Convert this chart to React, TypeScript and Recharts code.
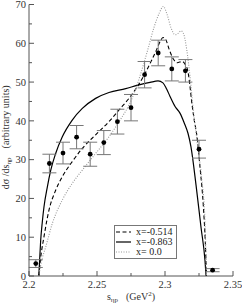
import React from 'react'
import { ComposedChart, Line, Scatter, ErrorBar, XAxis, YAxis, Legend } from 'recharts'

const FONT = '"Liberation Serif", "DejaVu Serif", serif'
const AXIS_COLOR = '#555'
const TEXT_COLOR = '#333'

const X_MAJOR = [2.2, 2.25, 2.3, 2.35]
const X_MINOR = [2.225, 2.275, 2.325]
const Y_MAJOR = [0, 10, 20, 30, 40, 50, 60, 70]
const Y_MINOR = [5, 15, 25, 35, 45, 55, 65]

// measured points (s, dσ/ds, error)
const POINT_S = [2.205, 2.215, 2.225, 2.235, 2.245, 2.255, 2.265, 2.275, 2.285, 2.295, 2.305, 2.315, 2.325, 2.335]
const POINT_V = [3.2, 29.0, 31.7, 35.8, 31.4, 34.4, 39.8, 43.4, 51.9, 57.5, 53.4, 52.9, 32.7, 1.5]
const POINT_ERR = [1.0, 2.4, 2.8, 3.0, 3.1, 3.1, 3.2, 3.4, 3.4, 3.3, 3.1, 2.9, 2.3, 0.4]

// model curves as [s, value]
const CURVE_SOLID = [
  [2.2072, 0], [2.2078, 4], [2.2086, 9.2], [2.2098, 14], [2.211, 17.8], [2.2135, 23],
  [2.216, 27.3], [2.2196, 31.6], [2.2245, 35.9], [2.2318, 40.2], [2.2392, 43.2], [2.249, 45.8],
  [2.2588, 47.3], [2.2711, 48.3], [2.28, 49.2], [2.289, 49.9], [2.2949, 50.3], [2.2985, 49.8],
  [2.3012, 48.2], [2.3037, 46.3], [2.3074, 43.7], [2.311, 42], [2.314, 39.6], [2.3169, 36.8],
  [2.3191, 33.3], [2.3228, 23.5], [2.3265, 12.5], [2.3294, 4], [2.3302, 0],
]
const CURVE_DASHED = [
  [2.2072, 0], [2.2085, 4.5], [2.211, 10.1], [2.2147, 17], [2.2196, 22.1], [2.2245, 25.6],
  [2.2318, 29.5], [2.2392, 32.9], [2.249, 36.4], [2.2588, 39.8], [2.2662, 42.8], [2.2735, 45.8],
  [2.28, 49], [2.285, 52], [2.29, 55.5], [2.294, 58.5], [2.2965, 60.5], [2.2985, 61.5],
  [2.3005, 61], [2.303, 58.5], [2.306, 56], [2.309, 55], [2.3125, 55.3], [2.315, 54.5],
  [2.317, 52.5], [2.3184, 48.8], [2.3196, 45], [2.3215, 40.2], [2.3233, 36.5], [2.3257, 28.2],
  [2.3282, 18], [2.3296, 9], [2.3305, 0],
]
const CURVE_DOTTED = [
  [2.2072, 0], [2.209, 3.5], [2.2123, 7.5], [2.2171, 13.5], [2.2245, 19.6], [2.2318, 23.9],
  [2.2392, 27.3], [2.249, 31.6], [2.2588, 35.9], [2.2662, 39.8], [2.2735, 44.1], [2.2772, 47],
  [2.282, 52], [2.2873, 58.3], [2.2921, 64.3], [2.2958, 67.8], [2.2988, 69.5], [2.3015, 67.5],
  [2.3044, 64], [2.3074, 62.2], [2.3098, 62.6], [2.3118, 63.2], [2.3135, 62.6], [2.316, 58.3],
  [2.3184, 51.4], [2.3208, 42.8], [2.3235, 35], [2.327, 25], [2.3294, 14], [2.3305, 0],
]

const toRows = (pts) => pts.map(([x, y]) => ({ x, y }))
const points = POINT_S.map((x, i) => ({ x, y: POINT_V[i], err: POINT_ERR[i] }))

const SERIES = [
  { name: 'x=-0.514', data: toRows(CURVE_DASHED), stroke: '#000', dash: '4 2.5', width: 1.1 },
  { name: 'x=-0.863', data: toRows(CURVE_SOLID), stroke: '#000', dash: undefined, width: 1.2 },
  { name: 'x= 0.0', data: toRows(CURVE_DOTTED), stroke: '#999', dash: '1 1.5', width: 1.1 },
]

const X_TICKS = [...X_MAJOR, ...X_MINOR].sort((a, b) => a - b)
const Y_TICKS = [...Y_MAJOR, ...Y_MINOR].sort((a, b) => a - b)

const tickText = { fontFamily: FONT, fontSize: 10.5, fill: TEXT_COLOR }

const BottomTick = ({ x, y, payload }) => {
  const major = X_MAJOR.includes(payload.value)
  return (
    <g>
      <line x1={x} x2={x} y1={y} y2={y - (major ? 5 : 3)} stroke={AXIS_COLOR} />
      {major && (
        <text x={x} y={y + 12} textAnchor="middle" {...tickText}>
          {payload.value}
        </text>
      )}
    </g>
  )
}

const TopTick = ({ x, y, payload }) => {
  const major = X_MAJOR.includes(payload.value)
  return <line x1={x} x2={x} y1={y} y2={y + (major ? 5 : 3)} stroke={AXIS_COLOR} />
}

const LeftTick = ({ x, y, payload }) => {
  const major = Y_MAJOR.includes(payload.value)
  return (
    <g>
      <line x1={x} x2={x + (major ? 5 : 3)} y1={y} y2={y} stroke={AXIS_COLOR} />
      {major && (
        <text x={x - 3} y={y} dy="0.35em" textAnchor="end" {...tickText}>
          {payload.value}
        </text>
      )}
    </g>
  )
}

const RightTick = ({ x, y, payload }) => {
  const major = Y_MAJOR.includes(payload.value)
  return <line x1={x} x2={x - (major ? 5 : 3)} y1={y} y2={y} stroke={AXIS_COLOR} />
}

const YTitle = ({ viewBox }) => {
  const cx = viewBox.x + 9
  const cy = viewBox.y + viewBox.height / 2 - 3
  return (
    <text
      transform={`translate(${cx},${cy}) rotate(-90)`}
      textAnchor="middle"
      fontFamily={FONT}
      fontSize={10}
      fill={TEXT_COLOR}
    >
      <tspan>dσ /ds</tspan>
      <tspan fontSize={7} dy={2}>ηp</tspan>
      <tspan dy={-2} dx={9}>(arbitrary units)</tspan>
    </text>
  )
}

const XTitle = ({ viewBox }) => {
  const cx = viewBox.x + viewBox.width / 2
  const cy = viewBox.y + 24
  return (
    <text x={cx} y={cy} textAnchor="middle" fontFamily={FONT} fontSize={10} fill={TEXT_COLOR}>
      <tspan>s</tspan>
      <tspan fontSize={7} dy={2}>ηp</tspan>
      <tspan dy={-2} dx={8}>(GeV</tspan>
      <tspan fontSize={7} dy={-4}>2</tspan>
      <tspan dy={4}>)</tspan>
    </text>
  )
}

const LegendBox = () => (
  <div
    style={{
      border: '1px solid #777',
      background: '#fff',
      width: 61,
      padding: '1px 0',
      fontFamily: FONT,
      fontSize: 10,
      color: '#222',
      lineHeight: '10px',
    }}
  >
    {SERIES.map((s) => (
      <div key={s.name} style={{ display: 'flex', alignItems: 'center', height: 10 }}>
        <svg width={21} height={10} style={{ display: 'block' }}>
          <line x1={1} x2={16} y1={5} y2={5} stroke={s.stroke} strokeWidth={s.width} strokeDasharray={s.dash} />
        </svg>
        <span style={{ whiteSpace: 'pre' }}>{s.name}</span>
      </div>
    ))}
  </div>
)

export default function App() {
  return (
    <div style={{ position: 'absolute', left: 0, top: 0, background: '#fff' }}>
      <ComposedChart width={242} height={306} margin={{ top: 4.5, right: 9, bottom: 0, left: 0 }}>
        <XAxis
          dataKey="x"
          type="number"
          domain={[2.2, 2.35]}
          allowDataOverflow
          ticks={X_TICKS}
          interval={0}
          height={30}
          tickSize={0}
          tickMargin={0}
          tickLine={false}
          tick={BottomTick}
          axisLine={{ stroke: AXIS_COLOR }}
          label={<XTitle />}
        />
        <XAxis
          xAxisId="top"
          orientation="top"
          dataKey="x"
          type="number"
          domain={[2.2, 2.35]}
          allowDataOverflow
          ticks={X_TICKS}
          interval={0}
          height={0}
          tickSize={0}
          tickMargin={0}
          tickLine={false}
          tick={TopTick}
          axisLine={{ stroke: AXIS_COLOR }}
        />
        <YAxis
          type="number"
          domain={[0, 70]}
          allowDataOverflow
          ticks={Y_TICKS}
          interval={0}
          width={29}
          tickSize={0}
          tickMargin={0}
          tickLine={false}
          tick={LeftTick}
          axisLine={{ stroke: AXIS_COLOR }}
          label={<YTitle />}
        />
        <YAxis
          yAxisId="right"
          orientation="right"
          type="number"
          domain={[0, 70]}
          allowDataOverflow
          ticks={Y_TICKS}
          interval={0}
          width={0}
          tickSize={0}
          tickMargin={0}
          tickLine={false}
          tick={RightTick}
          axisLine={{ stroke: AXIS_COLOR }}
        />
        {SERIES.map((s) => (
          <Line
            key={s.name}
            name={s.name}
            data={s.data}
            dataKey="y"
            type="monotone"
            stroke={s.stroke}
            strokeWidth={s.width}
            strokeDasharray={s.dash}
            dot={false}
            activeDot={false}
            isAnimationActive={false}
          />
        ))}
        <Scatter
          data={points}
          dataKey="y"
          fill="#000"
          isAnimationActive={false}
          shape={(p) => <circle cx={p.cx} cy={p.cy} r={2.4} fill="#000" />}
        >
          <ErrorBar dataKey="err" direction="y" width={7} stroke="#777" strokeWidth={1} />
        </Scatter>
        <Legend
          verticalAlign="middle"
          align="center"
          layout="horizontal"
          wrapperStyle={{ left: 114, top: 225, width: 63, height: 34 }}
          content={() => <LegendBox />}
        />
      </ComposedChart>
    </div>
  )
}
